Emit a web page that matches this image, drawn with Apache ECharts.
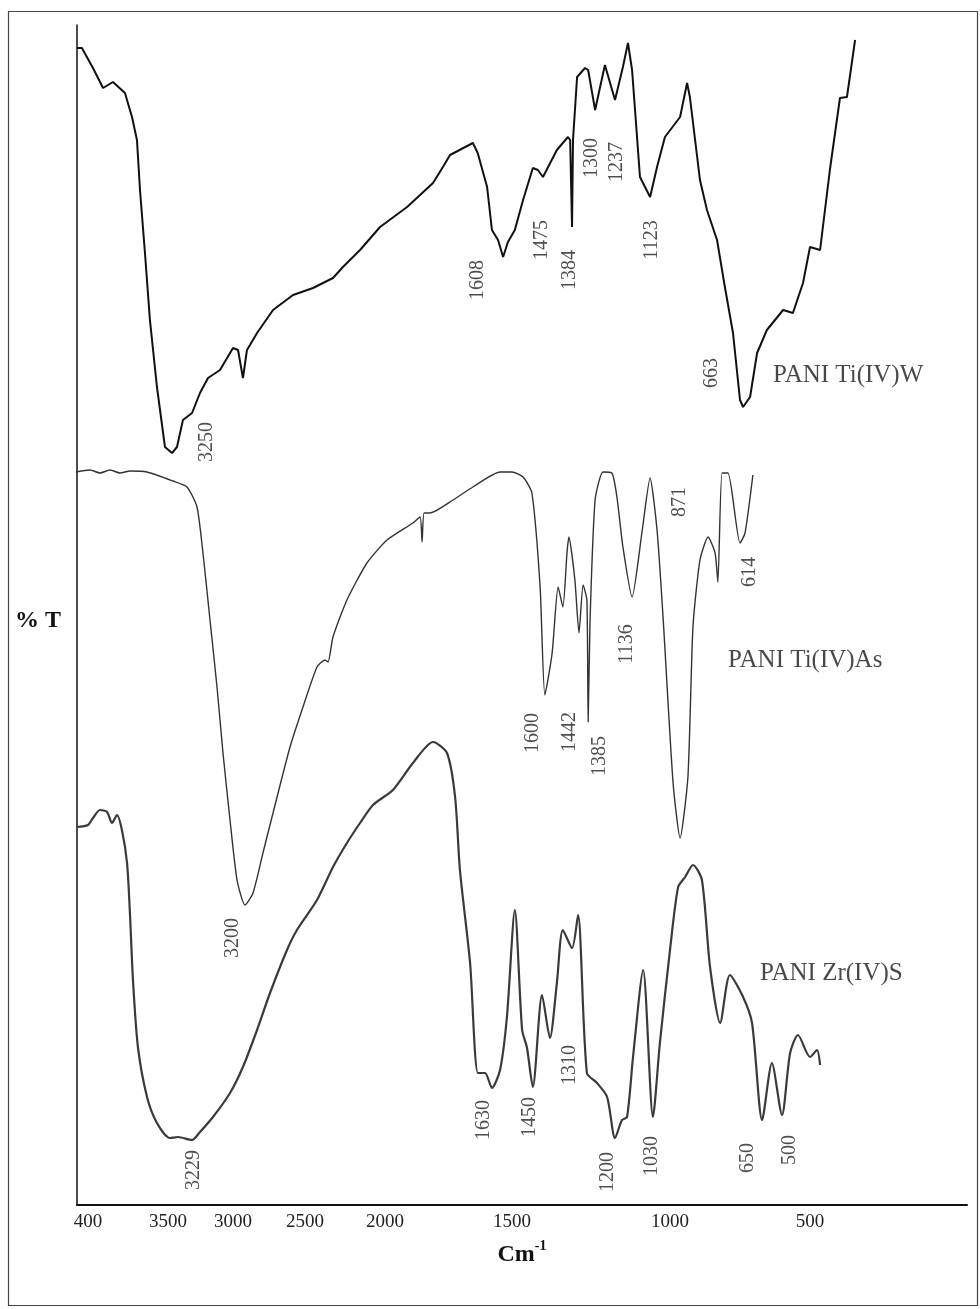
<!DOCTYPE html>
<html>
<head>
<meta charset="utf-8">
<script src="https://cdn.jsdelivr.net/npm/echarts@6/dist/echarts.min.js"></script>
<style>html,body{margin:0;padding:0;background:#fff}#c{width:980px;height:1309px}</style>
</head>
<body>
<div id="c"></div>
<script>
// Axis tick labels (as printed; the first one is truncated in the original)
const tickWn = [4000, 3500, 3000, 2500, 2000, 1500, 1000, 500];
const tickLabels = ['400', '3500', '3000', '2500', '2000', '1500', '1000', '500'];
// printed axis is non-linear: offsets of each tick along the axis (layout)
const tickPos = [11, 91, 156, 228, 308, 435, 593, 733];

// PANI Ti(IV)W  (wavenumber, offset %T)
const wnW = [4069,4038,3969,3906,3844,3769,3725,3694,3675,3644,3613,3569,3519,3469,3431,3385,3315,3254,3192,3100,3000,2965,2931,2903,2882,2833,2722,2583,2450,2325,2263,2156,2031,1913,1811,1772,1744,1654,1635,1598,1579,1555,1535,1516,1491,1465,1434,1418,1402,1358,1323,1316,1310,1307,1294,1269,1259,1237,1206,1174,1149,1133,1120,1095,1063,1041,1016,964,939,929,893,868,832,804,775,750,739,714,689,654,596,561,525,500,464,429,393,368,339];
const tW  = [115.7,115.7,113.7,111.7,112.3,111.2,108.8,106.5,101.5,95.2,88.5,81.8,75.8,75.2,75.8,78.5,79.2,81.2,82.7,83.5,85.7,85.5,82.7,85.5,86.0,87.2,89.5,91.0,91.7,92.7,93.8,95.5,97.8,99.8,102.2,103.8,105.0,106.2,105.2,101.8,97.5,96.5,94.8,96.3,97.5,100.5,103.7,103.5,102.8,105.5,106.8,106.5,97.8,106.5,112.8,113.7,113.5,109.5,114.0,110.5,113.8,116.2,113.5,102.8,100.8,103.8,106.8,108.8,112.2,110.8,102.5,99.5,96.5,91.8,87.2,80.5,79.8,80.8,85.2,87.5,89.5,89.2,92.2,95.8,95.5,103.5,110.7,110.8,116.5];

// PANI Ti(IV)As
const wnAs = [4075,3988,3925,3863,3800,3738,3631,3462,3354,3277,3231,3177,3123,3077,3023,2972,2917,2861,2792,2694,2604,2514,2425,2375,2356,2325,2238,2113,1992,1890,1862,1854,1846,1823,1732,1654,1547,1500,1465,1437,1411,1396,1373,1354,1339,1326,1320,1301,1288,1275,1263,1259,1253,1237,1212,1184,1168,1149,1120,1089,1063,1041,1022,989,964,936,918,893,864,839,829,814,793,750,732,704];
const tAs  = [73.3,73.5,73.2,73.5,73.2,73.4,73.3,72.4,71.8,69.8,65.2,58.5,51.8,45.2,38.5,32.5,30.0,31.2,35.2,40.8,45.8,49.8,53.8,54.5,54.3,56.8,60.5,64.2,66.5,68.2,68.8,66.3,69.2,69.2,70.5,71.8,73.3,73.3,72.8,71.2,61.8,51.0,55.2,61.8,59.8,65.2,66.8,62.5,57.2,62.0,60.5,48.3,58.5,70.5,73.3,73.2,70.8,65.8,60.8,67.2,72.7,67.5,58.8,42.2,36.7,42.8,57.8,64.5,66.8,65.2,62.3,73.2,73.2,66.2,67.2,73.0];

// PANI Zr(IV)S
const wnS = [4069,4000,3969,3925,3881,3850,3819,3788,3756,3738,3719,3688,3631,3569,3485,3423,3315,3254,3154,3023,2931,2833,2743,2625,2556,2425,2325,2238,2156,2075,1969,1890,1811,1756,1724,1705,1665,1634,1606,1579,1547,1520,1491,1468,1453,1434,1405,1380,1358,1339,1310,1291,1263,1231,1199,1174,1152,1136,1117,1085,1054,1032,1000,971,946,918,886,857,821,786,739,707,671,636,600,571,543,500,475,464];
const tS  = [37.8,38.0,38.7,39.5,39.3,38.2,39.0,37.5,34.2,29.2,22.5,15.8,10.8,8.2,6.7,6.8,6.5,7.3,8.8,11.2,13.8,17.5,21.2,25.5,27.5,30.5,33.8,36.2,38.2,40.0,41.5,44.2,46.3,45.2,40.8,33.5,24.2,13.2,13.2,11.7,13.5,18.8,29.5,17.5,15.8,11.8,21.0,16.7,22.2,27.5,25.7,29.0,13.2,12.2,10.8,6.7,8.5,8.8,14.8,23.5,8.8,16.2,25.5,31.8,32.8,34.0,32.5,23.8,18.2,23.0,20.8,18.2,8.5,14.2,9.0,15.2,17.0,14.8,15.5,14.0];

// peak annotations: text, anchor wavenumber, anchor %T
const peakText = ['3250','1608','1475','1384','1300','1237','1123','663',
                  '3200','1600','1442','1385','1136','871','614',
                  '3229','1630','1450','1310','1200','1030','650','500'];
const peakWn   = [3200,1634,1405,1317,1247,1168,1057,850,
                  3000,1434,1317,1221,1136,964,714,
                  3300,1610,1443,1316,1196,1057,721,571];
const peakT    = [76.3,92.5,96.5,93.5,104.7,104.3,96.5,83.2,
                  26.7,47.2,47.3,44.9,56.1,70.3,63.3,
                  3.5,8.5,8.8,14.0,3.3,4.9,4.7,5.5];

const sampleNames = ['PANI Ti(IV)W', 'PANI Ti(IV)As', 'PANI Zr(IV)S'];
const sampleWn = [632, 793, 679];
const sampleT  = [83.0, 54.5, 23.2];

function pos(wn) {
  const n = tickWn.length;
  let i;
  if (wn >= tickWn[0]) i = 0;
  else if (wn <= tickWn[n - 1]) i = n - 2;
  else { i = 0; while (!(wn <= tickWn[i] && wn >= tickWn[i + 1])) i++; }
  const t = (wn - tickWn[i]) / (tickWn[i + 1] - tickWn[i]);
  return tickPos[i] + t * (tickPos[i + 1] - tickPos[i]);
}
const pts = (wn, t) => wn.map((w, i) => [pos(w), t[i]]);

const serif = '"Liberation Serif", "Times New Roman", serif';
const chart = echarts.init(document.getElementById('c'), null, { renderer: 'canvas' });
chart.setOption({
  animation: false,
  backgroundColor: '#fff',
  grid: { left: 77, right: 13, top: 25, bottom: 104, containLabel: false },
  xAxis: {
    type: 'value', min: 0, max: 890,
    axisLine: { show: true, lineStyle: { color: '#111', width: 2 } },
    axisTick: { show: false },
    splitLine: { show: false },
    axisLabel: {
      customValues: tickPos,
      margin: 8,
      fontFamily: serif, fontSize: 19, color: '#222',
      formatter: function (v) {
        let best = 0;
        for (let i = 1; i < tickPos.length; i++) if (Math.abs(tickPos[i] - v) < Math.abs(tickPos[best] - v)) best = i;
        return tickLabels[best];
      }
    },
    name: '{b|Cm}{s|-1}',
    nameLocation: 'middle',
    nameGap: 34,
    nameTextStyle: {
      rich: {
        b: { fontFamily: serif, fontSize: 24, fontWeight: 'bold', color: '#111', lineHeight: 28, verticalAlign: 'bottom' },
        s: { fontFamily: serif, fontSize: 14, fontWeight: 'bold', color: '#111', lineHeight: 28, verticalAlign: 'top', padding: [0, 0, 10, 0] }
      }
    }
  },
  yAxis: {
    type: 'value', min: 0, max: 118,
    axisLine: { show: true, lineStyle: { color: '#111', width: 1.5 } },
    axisTick: { show: false },
    axisLabel: { show: false },
    splitLine: { show: false }
  },
  graphic: [
    { type: 'rect', shape: { x: 8.5, y: 11.5, width: 969, height: 1294 }, style: { fill: 'none', stroke: '#444', lineWidth: 1.2 }, silent: true },
    { type: 'text', left: 15, top: 609, style: { text: '% T', font: 'bold 24px ' + serif, fill: '#111' } }
  ],
  series: [
    { type: 'line', name: sampleNames[0], data: pts(wnW, tW), symbol: 'none', lineStyle: { color: '#111', width: 2 } },
    { type: 'line', name: sampleNames[1], data: pts(wnAs, tAs), symbol: 'none', smooth: 0.2, lineStyle: { color: '#333', width: 1.4 } },
    { type: 'line', name: sampleNames[2], data: pts(wnS, tS), symbol: 'none', smooth: 0.25, lineStyle: { color: '#3a3a3a', width: 2.2 } },
    {
      type: 'scatter', symbolSize: 0, silent: true,
      data: peakText.map((s, i) => [pos(peakWn[i]), peakT[i], s]),
      label: { show: true, position: 'inside', rotate: 90, formatter: p => p.data[2], fontFamily: serif, fontSize: 20, color: '#222' }
    },
    {
      type: 'scatter', symbolSize: 0, silent: true,
      data: sampleNames.map((s, i) => [pos(sampleWn[i]), sampleT[i], s]),
      label: { show: true, position: 'right', distance: 0, formatter: p => p.data[2], fontFamily: serif, fontSize: 25, color: '#1a1a1a' }
    }
  ]
});
</script>
</body>
</html>
